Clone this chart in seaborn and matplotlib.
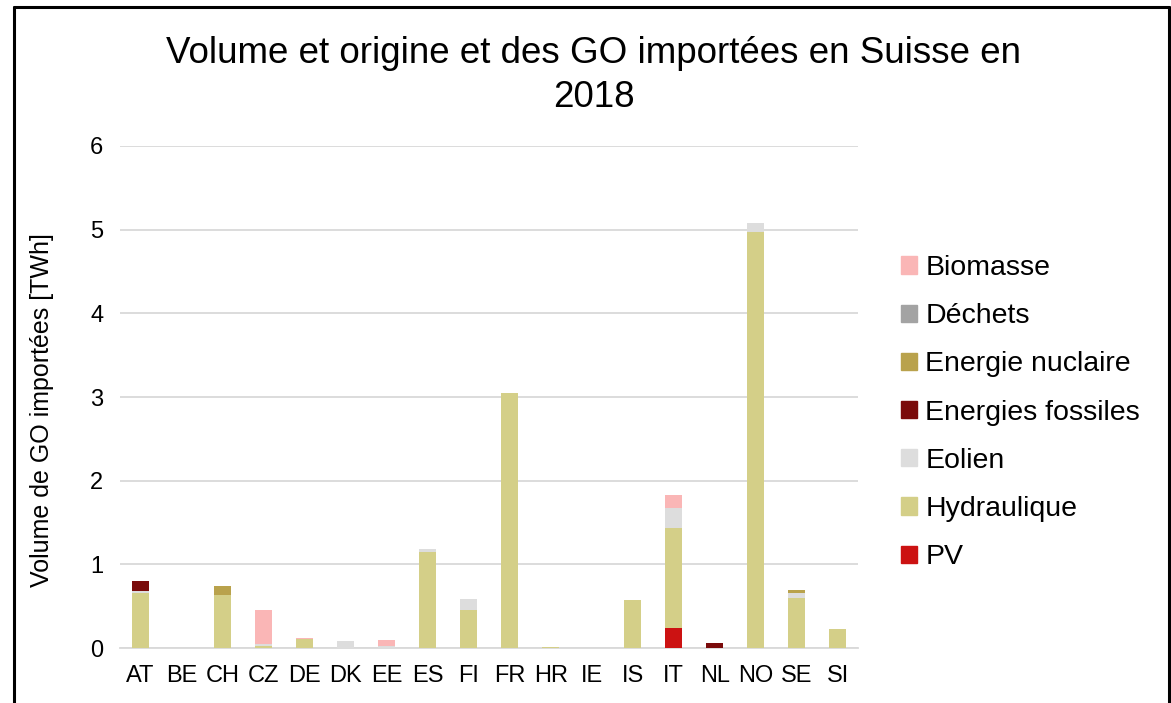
import pandas as pd
import matplotlib
matplotlib.use("Agg")
import matplotlib.pyplot as plt
import seaborn as sns
from matplotlib.patches import Rectangle
from matplotlib.lines import Line2D

# Countries on x axis
countries = ["AT", "BE", "CH", "CZ", "DE", "DK", "EE", "ES", "FI", "FR",
             "HR", "IE", "IS", "IT", "NL", "NO", "SE", "SI"]

# Values in TWh
pv          = [0.00, 0, 0.00, 0.00, 0.00, 0.00, 0.00, 0.00, 0.00, 0.00, 0, 0, 0.00, 0.24, 0.00, 0.00, 0.00, 0.00]
hydraulique = [0.66, 0, 0.63, 0.03, 0.11, 0.00, 0.00, 1.15, 0.46, 3.05, 0.01, 0, 0.58, 1.20, 0.00, 4.97, 0.60, 0.23]
eolien      = [0.02, 0, 0.00, 0.02, 0.00, 0.09, 0.02, 0.04, 0.13, 0.00, 0, 0, 0.00, 0.24, 0.00, 0.11, 0.06, 0.00]
fossiles    = [0.12, 0, 0.00, 0.00, 0.00, 0.00, 0.00, 0.00, 0.00, 0.00, 0, 0, 0.00, 0.00, 0.06, 0.00, 0.00, 0.00]
nucleaire   = [0.00, 0, 0.11, 0.00, 0.00, 0.00, 0.00, 0.00, 0.00, 0.00, 0, 0, 0.00, 0.00, 0.00, 0.00, 0.03, 0.00]
dechets     = [0.00, 0, 0.00, 0.00, 0.00, 0.00, 0.00, 0.00, 0.00, 0.00, 0, 0, 0.00, 0.00, 0.00, 0.00, 0.00, 0.00]
biomasse    = [0.00, 0, 0.00, 0.41, 0.01, 0.00, 0.08, 0.00, 0.00, 0.00, 0, 0, 0.00, 0.15, 0.00, 0.00, 0.00, 0.00]

# stack order bottom -> top
series = ["PV", "Hydraulique", "Eolien", "Energies fossiles", "Energie nuclaire", "Déchets", "Biomasse"]
values = [pv, hydraulique, eolien, fossiles, nucleaire, dechets, biomasse]
colors = {
    "PV": "#CC1212",
    "Hydraulique": "#D4CF88",
    "Eolien": "#DDDDDD",
    "Energies fossiles": "#7A0B0B",
    "Energie nuclaire": "#B9A24C",
    "Déchets": "#A3A3A3",
    "Biomasse": "#FAB6B6",
}

df = pd.DataFrame(dict(zip(series, values)), index=countries)
cum = df.cumsum(axis=1)

sns.set_style("white")
plt.rcParams["font.family"] = ["Liberation Sans", "DejaVu Sans"]
plt.rcParams["text.color"] = "black"
plt.rcParams["axes.labelcolor"] = "black"
plt.rcParams["xtick.color"] = "black"
plt.rcParams["ytick.color"] = "black"

fig = plt.figure(figsize=(11.71, 7.03), dpi=100)
ax = fig.add_axes([0.1025, 0.078, 0.6305, 0.7145])

# draw cumulative totals from top layer down so lower layers overlay
for s in reversed(series):
    d = pd.DataFrame({"pays": countries, "val": cum[s].values})
    sns.barplot(data=d, x="pays", y="val", color=colors[s], width=0.42,
                saturation=1, linewidth=0, ax=ax, zorder=3)

ax.set_ylim(0, 6)
ax.set_xlim(-0.5, len(countries) - 0.5)
ax.set_yticks(range(0, 7))
ax.yaxis.grid(True, color="#D9D9D9", linewidth=1.3, zorder=0)
ax.set_axisbelow(True)
for side in ["top", "right", "left"]:
    ax.spines[side].set_visible(False)
ax.spines["bottom"].set_color("#D9D9D9")
ax.spines["bottom"].set_linewidth(1.3)
ax.tick_params(axis="both", length=0, labelsize=17)
ax.tick_params(axis="x", pad=12)
ax.tick_params(axis="y", pad=12)
ax.set_xlabel("")
ax.set_ylabel("Volume de GO importées [TWh]", fontsize=18)
ax.yaxis.set_label_coords(-0.089, 0.474)

fig.text(0.507, 0.893, "Volume et origine et des GO importées en Suisse en\n2018",
         ha="center", va="center", fontsize=26.5, linespacing=1.32)

handles = [Rectangle((0, 0), 1, 1, color=colors[s]) for s in reversed(series)]
leg = fig.legend(handles, list(reversed(series)), loc="center left",
                 bbox_to_anchor=(0.7694, 0.413), frameon=False, fontsize=20.5,
                 handlelength=0.55, handleheight=0.55, handletextpad=0.3,
                 labelspacing=0.78, borderpad=0, borderaxespad=0)

# outer chart border
fig.add_artist(Line2D([0.012, 0.012], [-0.01, 0.990], color="black", lw=2.2, transform=fig.transFigure))
fig.add_artist(Line2D([0.012, 0.998], [0.990, 0.990], color="black", lw=2.2, transform=fig.transFigure))
fig.add_artist(Line2D([0.998, 0.998], [-0.01, 0.990], color="black", lw=2.2, transform=fig.transFigure))

fig.savefig("out.png", dpi=100)
